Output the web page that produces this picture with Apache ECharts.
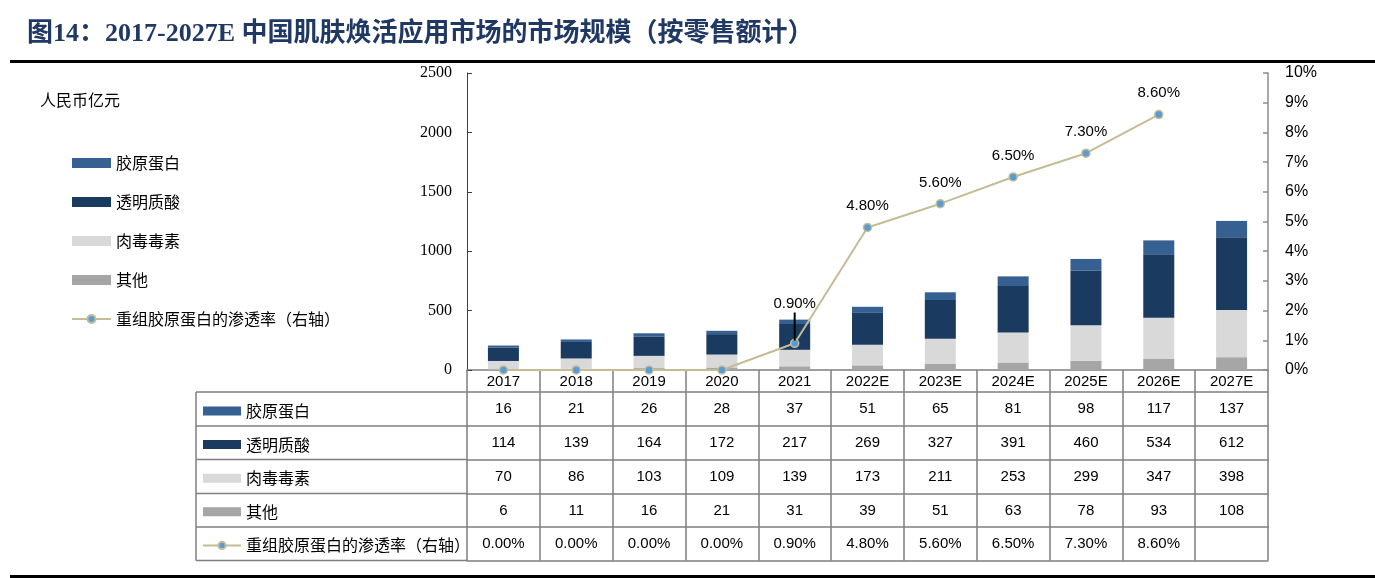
<!DOCTYPE html>
<html>
<head>
<meta charset="utf-8">
<script src="https://cdn.jsdelivr.net/npm/echarts@6/dist/echarts.min.js"></script>
<style>
html,body{margin:0;padding:0;background:#fff;}
#main{width:1375px;height:578px;}
</style>
</head>
<body>
<div id="main"></div>
<script>
// ---- data ----
const categories = ['2017','2018','2019','2020','2021','2022E','2023E','2024E','2025E','2026E','2027E'];
const collagen   = [16, 21, 26, 28, 37, 51, 65, 81, 98, 117, 137];
const hyaluronic = [114, 139, 164, 172, 217, 269, 327, 391, 460, 534, 612];
const botox      = [70, 86, 103, 109, 139, 173, 211, 253, 299, 347, 398];
const others     = [6, 11, 16, 21, 31, 39, 51, 63, 78, 93, 108];
const penetration = [0, 0, 0, 0, 0.9, 4.8, 5.6, 6.5, 7.3, 8.6, null];
const leftAxis  = {min: 0, max: 2500, interval: 500};
const rightAxis = {min: 0, max: 10, interval: 1};

const names = ['胶原蛋白', '透明质酸', '肉毒毒素', '其他', '重组胶原蛋白的渗透率（右轴）'];
const colors = ['#376092', '#1B3A60', '#D9D9D9', '#A6A6A6'];
const lineColor = '#C4BC96';
const markerColor = '#5B9BD5';

const pct = v => (v === null || v === undefined) ? '' : v.toFixed(2) + '%';
const tableRows = [collagen.map(String), hyaluronic.map(String), botox.map(String), others.map(String), penetration.map(pct)];

// ---- layout ----
const W = 1375, H = 578;
const gridLeft = 467, gridRight = 107, gridTop = 73, gridBottom = 208;
const axisY = H - gridBottom;          // 370
const headerH = 22;
const rowOffsets = [22, 56, 89.5, 123.5, 157, 190.5];
const tableLeft = 196;
const tableGray = '#7F7F7F';
const sans = '"Liberation Sans", Arial, "Noto Sans CJK SC", sans-serif';
const cjk = '"Noto Sans CJK SC", sans-serif';

const chart = echarts.init(document.getElementById('main'), null, {renderer: 'canvas'});

const xAxes = [];
// header row: category names
xAxes.push({
  type: 'category', data: categories, gridIndex: 0, position: 'bottom', offset: 0,
  boundaryGap: true,
  axisLine: {show: true, onZero: false, lineStyle: {color: tableGray, width: 1.5}},
  axisTick: {show: true, interval: 0, length: headerH, lineStyle: {color: tableGray, width: 1.5}},
  axisLabel: {interval: 0, margin: 4, fontSize: 15, color: '#000', fontFamily: sans}
});
tableRows.forEach((row, i) => {
  xAxes.push({
    type: 'category', data: categories, gridIndex: 0, position: 'bottom', offset: rowOffsets[i],
    boundaryGap: true,
    axisLine: {show: true, onZero: false, lineStyle: {color: tableGray, width: 1.5}},
    axisTick: {show: true, interval: 0, length: rowOffsets[i + 1] - rowOffsets[i], lineStyle: {color: tableGray, width: 1.5}},
    axisLabel: {interval: 0, margin: 9.5, fontSize: 15, color: '#000', fontFamily: sans,
      formatter: (v, idx) => row[idx]}
  });
});
xAxes.push({
  type: 'category', data: categories, gridIndex: 0, position: 'bottom', offset: rowOffsets[5],
  boundaryGap: true,
  axisLine: {show: true, onZero: false, lineStyle: {color: tableGray, width: 1.5}},
  axisTick: {show: false}, axisLabel: {show: false}
});

const barSeries = [
  {name: names[3], data: others, color: colors[3]},
  {name: names[2], data: botox, color: colors[2]},
  {name: names[1], data: hyaluronic, color: colors[1]},
  {name: names[0], data: collagen, color: colors[0]}
].map(s => ({
  name: s.name, type: 'bar', stack: 'total', data: s.data,
  xAxisIndex: 0, yAxisIndex: 0, barWidth: 31,
  itemStyle: {color: s.color}
}));

const lineData = penetration.map((v, i) => {
  if (i === 4) {
    return {
      value: v,
      label: {
        show: true, position: 'top', distance: -2,
        formatter: '{t|' + pct(v) + '}\n{l|}',
        rich: {
          t: {fontSize: 15, color: '#000', fontFamily: sans, lineHeight: 18},
          l: {width: 2, height: 28, backgroundColor: '#000'}
        }
      }
    };
  }
  return {value: v, label: {show: v !== null && v > 0}};
});

const lineSeries = {
  name: names[4], type: 'line', data: lineData, xAxisIndex: 0, yAxisIndex: 1,
  symbol: 'circle', symbolSize: 8, z: 5, connectNulls: false,
  lineStyle: {color: lineColor, width: 2},
  itemStyle: {color: markerColor, borderColor: lineColor, borderWidth: 1.5},
  label: {show: true, position: 'top', distance: 9, fontSize: 15, color: '#000', fontFamily: sans,
    formatter: p => pct(p.value)}
};

const legendData = names.map((n, i) => i < 4 ? {name: n, icon: 'rect'} : {name: n});

const graphics = [];
// top & bottom black rules
graphics.push({type: 'line', shape: {x1: 10, y1: 61.5, x2: W, y2: 61.5}, style: {stroke: '#000', lineWidth: 3}, silent: true});
graphics.push({type: 'line', shape: {x1: 10, y1: 576.5, x2: W, y2: 576.5}, style: {stroke: '#000', lineWidth: 3}, silent: true});
// unit text
graphics.push({type: 'text', left: 40, top: 92, style: {text: '人民币亿元', font: '16px ' + cjk, fill: '#000'}, silent: true});
// table left column borders
rowOffsets.forEach(o => {
  graphics.push({type: 'line', shape: {x1: tableLeft, y1: axisY + o, x2: gridLeft, y2: axisY + o},
    style: {stroke: tableGray, lineWidth: 1.5}, silent: true});
});
graphics.push({type: 'line', shape: {x1: tableLeft, y1: axisY + rowOffsets[0], x2: tableLeft, y2: axisY + rowOffsets[5]},
  style: {stroke: tableGray, lineWidth: 1.5}, silent: true});

const option = {
  animation: false,
  backgroundColor: '#fff',
  title: {
    text: '图14：2017-2027E 中国肌肤焕活应用市场的市场规模（按零售额计）',
    left: 22, top: 16,
    textStyle: {fontSize: 26, fontWeight: 'bold', color: '#1F3864', fontFamily: '"Liberation Serif", "Noto Sans CJK SC", serif'}
  },
  legend: [
    {
      orient: 'vertical', left: 66, top: 148, itemWidth: 39, itemHeight: 10, itemGap: 19,
      data: legendData, selectedMode: false,
      textStyle: {fontSize: 16, lineHeight: 20, color: '#000', fontFamily: cjk}
    },
    {
      orient: 'vertical', left: 197, top: 396, itemWidth: 38, itemHeight: 9, itemGap: 13.6,
      data: legendData, selectedMode: false,
      textStyle: {fontSize: 16, lineHeight: 20, color: '#000', fontFamily: cjk}
    }
  ],
  grid: {left: gridLeft, right: gridRight, top: gridTop, bottom: gridBottom, containLabel: false, outerBoundsMode: 'none'},
  xAxis: xAxes,
  yAxis: [
    {
      type: 'value', min: leftAxis.min, max: leftAxis.max, interval: leftAxis.interval, position: 'left',
      axisLine: {show: true, lineStyle: {color: '#404040', width: 1}},
      axisTick: {show: true, inside: true, length: 5, lineStyle: {color: '#404040'}},
      axisLabel: {fontSize: 16, color: '#000', margin: 15, fontFamily: '"Liberation Serif", serif',
        formatter: v => String(v)},
      splitLine: {show: false}
    },
    {
      type: 'value', min: rightAxis.min, max: rightAxis.max, interval: rightAxis.interval, position: 'right',
      axisLine: {show: true, lineStyle: {color: '#8C8C8C', width: 1.5}},
      axisTick: {show: true, inside: true, length: 5, lineStyle: {color: '#8C8C8C', width: 1.5}},
      axisLabel: {fontSize: 16, color: '#000', margin: 17, fontFamily: sans, formatter: v => v + '%'},
      splitLine: {show: false}
    }
  ],
  series: [...barSeries, lineSeries],
  graphic: graphics
};

chart.setOption(option);
</script>
</body>
</html>
